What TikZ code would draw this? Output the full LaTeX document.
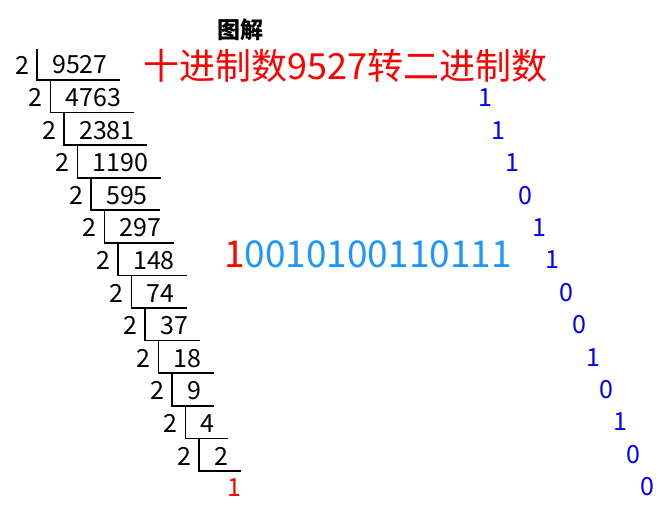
\documentclass[tikz,border=0pt]{standalone}
\usepackage{fontspec}
\setmainfont{Noto Sans CJK SC}
\definecolor{resblue}{RGB}{30,150,255}
\tikzset{
  digit/.style={font=\fontsize{25}{28}\selectfont, inner sep=0pt},
  quot/.style={digit, anchor=west},
  rem/.style={digit, text=blue},
  bar/.style={line width=1.8pt}
}
\begin{document}
\begin{tikzpicture}[x=1pt, y=-1pt]
\useasboundingbox (0,0) rectangle (672,518);
\node[font=\fontsize{23}{26}\selectfont\bfseries] (heading) at (240,30) {图解};
\node[font=\fontsize{36}{40}\selectfont, text=red, inner sep=0pt] (title) at (345.5,66) {十进制数9527转二进制数};
% ladder of divisions by 2
\node[digit] (d0) at (22,65) {2};
\node[quot] (q0) at (52,65) {9527};
\draw[bar] (37,49) |- (120,80);
\node[digit] (d1) at (35.5,97.6) {2};
\node[quot] (q1) at (65.5,97.6) {4763};
\draw[bar] (50.5,80) |- (133.5,112.6);
\node[digit] (d2) at (49,130.2) {2};
\node[quot] (q2) at (79,130.2) {2381};
\draw[bar] (64,112.6) |- (147,145.2);
\node[digit] (d3) at (62.5,162.7) {2};
\node[quot] (q3) at (92.5,162.7) {1190};
\draw[bar] (77.5,145.2) |- (160.5,177.7);
\node[digit] (d4) at (76,195.3) {2};
\node[quot] (q4) at (106,195.3) {595};
\draw[bar] (91,177.7) |- (160,210.3);
\node[digit] (d5) at (89.5,227.9) {2};
\node[quot] (q5) at (119.5,227.9) {297};
\draw[bar] (104.5,210.3) |- (173.5,242.9);
\node[digit] (d6) at (103,260.5) {2};
\node[quot] (q6) at (133,260.5) {148};
\draw[bar] (118,242.9) |- (187,275.5);
\node[digit] (d7) at (116.5,293.1) {2};
\node[quot] (q7) at (146.5,293.1) {74};
\draw[bar] (131.5,275.5) |- (186.5,308.1);
\node[digit] (d8) at (130,325.6) {2};
\node[quot] (q8) at (160,325.6) {37};
\draw[bar] (145,308.1) |- (200,340.6);
\node[digit] (d9) at (143.5,358.2) {2};
\node[quot] (q9) at (173.5,358.2) {18};
\draw[bar] (158.5,340.6) |- (213.5,373.2);
\node[digit] (d10) at (157,390.8) {2};
\node[quot] (q10) at (187,390.8) {9};
\draw[bar] (172,373.2) |- (214,405.8);
\node[digit] (d11) at (170.5,423.4) {2};
\node[quot] (q11) at (200.5,423.4) {4};
\draw[bar] (185.5,405.8) |- (227.5,438.4);
\node[digit] (d12) at (184,456) {2};
\node[quot] (q12) at (214,456) {2};
\draw[bar] (199,438.4) |- (241,471);
\node[digit, text=red] (last) at (234,488) {1};
% remainders
\node[rem] (r0) at (485,98) {1};
\node[rem] (r1) at (498.5,130.4) {1};
\node[rem] (r2) at (512,162.8) {1};
\node[rem] (r3) at (525.5,195.2) {0};
\node[rem] (r4) at (539,227.6) {1};
\node[rem] (r5) at (552.5,260) {1};
\node[rem] (r6) at (566,292.4) {0};
\node[rem] (r7) at (579.5,324.8) {0};
\node[rem] (r8) at (593,357.2) {1};
\node[rem] (r9) at (606.5,389.6) {0};
\node[rem] (r10) at (620,422) {1};
\node[rem] (r11) at (633.5,454.4) {0};
\node[rem] (r12) at (647,486.8) {0};
\node[font=\fontsize{37}{42}\selectfont, text=resblue, inner sep=0pt, anchor=west] (result) at (224,254.5) {\textcolor{red}{1}0010100110111};
\end{tikzpicture}
\end{document}
